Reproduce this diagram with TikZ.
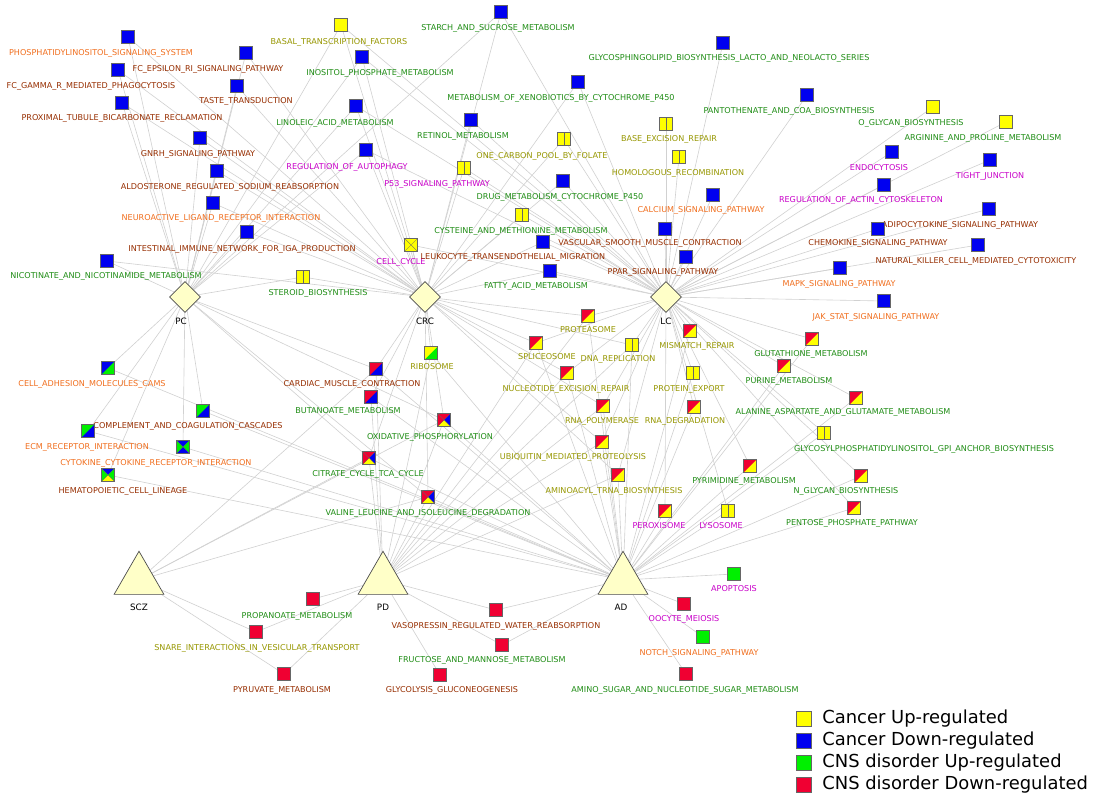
\documentclass[tikz,border=0pt]{standalone}
\usepackage{fontspec}
\setsansfont{DejaVu Sans}
\usepackage{tikz}
\usetikzlibrary{shapes.geometric, backgrounds}
\definecolor{mgreen}{RGB}{30,140,20}
\definecolor{mbrown}{RGB}{150,45,0}
\definecolor{morange}{RGB}{240,110,30}
\definecolor{molive}{RGB}{150,150,0}
\definecolor{mmag}{RGB}{200,0,200}
\definecolor{cyel}{RGB}{255,255,0}
\definecolor{cblue}{RGB}{0,0,240}
\definecolor{cgreen}{RGB}{0,240,0}
\definecolor{cred}{RGB}{240,0,50}
\definecolor{cream}{RGB}{255,255,200}
\tikzset{
    sq/.style={rectangle, draw=black!60, very thin, minimum size=0.26cm, inner sep=0pt},
    sqY/.style={sq, fill=cyel},
    sqB/.style={sq, fill=cblue},
    sqR/.style={sq, fill=cred},
    sqG/.style={sq, fill=cgreen},
    ysplit/.style={sq, fill=cyel, path picture={\draw[black!60, very thin] (path picture bounding box.north) -- (path picture bounding box.south);}},
    duo/.style 2 args={sq, fill=#2, path picture={\fill[#1] (path picture bounding box.north west) -- (path picture bounding box.north east) -- (path picture bounding box.south west) -- cycle;}},
    quad/.style n args={4}{sq, fill=#1, path picture={
        \fill[#2] (path picture bounding box.north east) -- (path picture bounding box.center) -- (path picture bounding box.south east) -- cycle;
        \fill[#3] (path picture bounding box.south west) -- (path picture bounding box.center) -- (path picture bounding box.south east) -- cycle;
        \fill[#4] (path picture bounding box.north west) -- (path picture bounding box.center) -- (path picture bounding box.south west) -- cycle;
        \draw[black!60, very thin] (path picture bounding box.north west) -- (path picture bounding box.south east) (path picture bounding box.north east) -- (path picture bounding box.south west);}},
    lbl/.style={font=\sffamily\fontsize{4.6}{5}\selectfont, inner sep=0pt},
    hub/.style={diamond, draw=black!70, fill=cream, minimum size=0.62cm, inner sep=0pt},
    dis/.style={regular polygon, regular polygon sides=3, draw=black!70, fill=cream, minimum size=1.15cm, inner sep=0pt},
    hublbl/.style={font=\sffamily\fontsize{5}{6}\selectfont, inner sep=0pt},
    link/.style={draw=black!18, line width=0.35pt},
    legtxt/.style={font=\sffamily\fontsize{10.2}{12}\selectfont, anchor=west, inner sep=0pt}
}
% pathway: id, square x, y, style, label x, y, colour, text
\newcommand{\pw}[8]{%
    \node[#4] (#1) at (#2,#3) {};
    \node[lbl, text=#7] (#1-l) at (#5,#6) {#8};
}
\begin{document}
\begin{tikzpicture}[x=0.02cm, y=-0.02cm]
    \useasboundingbox (0,0) rectangle (1093,800);

    % hubs
    \node[hub] (PC) at (185,297) {};
    \node[hub] (CRC) at (425,297) {};
    \node[hub] (LC) at (666,297) {};
    \node[dis] (SCZ) at (139,580) {};
    \node[dis] (PD) at (383,580) {};
    \node[dis] (AD) at (623,580) {};
    \node[hublbl] at (181,321) {PC};
    \node[hublbl] at (425,321) {CRC};
    \node[hublbl] at (666,321) {LC};
    \node[hublbl] at (139,607) {SCZ};
    \node[hublbl] at (383,607) {PD};
    \node[hublbl] at (621,607) {AD};

    % cancer pathways, top
    \pw{p1}{128}{37}{sqB}{101}{53}{morange}{PHOSPHATIDYLINOSITOL\_SIGNALING\_SYSTEM}
    \pw{p2}{246}{53}{sqB}{208}{69}{mbrown}{FC\_EPSILON\_RI\_SIGNALING\_PATHWAY}
    \pw{p3}{118}{70}{sqB}{91}{86}{mbrown}{FC\_GAMMA\_R\_MEDIATED\_PHAGOCYTOSIS}
    \pw{p4}{237}{86}{sqB}{246}{101}{mbrown}{TASTE\_TRANSDUCTION}
    \pw{p5}{122}{103}{sqB}{122}{118}{mbrown}{PROXIMAL\_TUBULE\_BICARBONATE\_RECLAMATION}
    \pw{p6}{200}{138}{sqB}{198}{154}{mbrown}{GNRH\_SIGNALING\_PATHWAY}
    \pw{p7}{217}{171}{sqB}{230}{187}{mbrown}{ALDOSTERONE\_REGULATED\_SODIUM\_REABSORPTION}
    \pw{p8}{213}{203}{sqB}{221}{218}{morange}{NEUROACTIVE\_LIGAND\_RECEPTOR\_INTERACTION}
    \pw{p9}{247}{232}{sqB}{242}{249}{mbrown}{INTESTINAL\_IMMUNE\_NETWORK\_FOR\_IGA\_PRODUCTION}
    \pw{p10}{107}{261}{sqB}{106}{276}{mgreen}{NICOTINATE\_AND\_NICOTINAMIDE\_METABOLISM}
    \pw{p11}{303}{277}{ysplit}{318}{293}{mgreen}{STEROID\_BIOSYNTHESIS}
    \pw{p12}{341}{25}{sqY}{339}{42}{molive}{BASAL\_TRANSCRIPTION\_FACTORS}
    \pw{p13}{501}{12}{sqB}{498}{28}{mgreen}{STARCH\_AND\_SUCROSE\_METABOLISM}
    \pw{p14}{723}{43}{sqB}{729}{58}{mgreen}{GLYCOSPHINGOLIPID\_BIOSYNTHESIS\_LACTO\_AND\_NEOLACTO\_SERIES}
    \pw{p15}{362}{57}{sqB}{380}{73}{mgreen}{INOSITOL\_PHOSPHATE\_METABOLISM}
    \pw{p16}{578}{82}{sqB}{561}{98}{mgreen}{METABOLISM\_OF\_XENOBIOTICS\_BY\_CYTOCHROME\_P450}
    \pw{p17}{807}{95}{sqB}{789}{111}{mgreen}{PANTOTHENATE\_AND\_COA\_BIOSYNTHESIS}
    \pw{p18}{933}{107}{sqY}{911}{123}{mgreen}{O\_GLYCAN\_BIOSYNTHESIS}
    \pw{p19}{1006}{122}{sqY}{983}{138}{mgreen}{ARGININE\_AND\_PROLINE\_METABOLISM}
    \pw{p20}{356}{106}{sqB}{335}{123}{mgreen}{LINOLEIC\_ACID\_METABOLISM}
    \pw{p21}{471}{120}{sqB}{463}{136}{mgreen}{RETINOL\_METABOLISM}
    \pw{p22}{666}{124}{ysplit}{669}{139}{molive}{BASE\_EXCISION\_REPAIR}
    \pw{p23}{564}{139}{ysplit}{542}{156}{molive}{ONE\_CARBON\_POOL\_BY\_FOLATE}
    \pw{p24}{366}{150}{sqB}{347}{167}{mmag}{REGULATION\_OF\_AUTOPHAGY}
    \pw{p25}{892}{152}{sqB}{879}{168}{mmag}{ENDOCYTOSIS}
    \pw{p26}{990}{160}{sqB}{990}{176}{mmag}{TIGHT\_JUNCTION}
    \pw{p27}{464}{168}{ysplit}{437}{184}{mmag}{P53\_SIGNALING\_PATHWAY}
    \pw{p28}{679}{157}{ysplit}{678}{173}{molive}{HOMOLOGOUS\_RECOMBINATION}
    \pw{p29}{563}{181}{sqB}{560}{197}{mgreen}{DRUG\_METABOLISM\_CYTOCHROME\_P450}
    \pw{p30}{884}{185}{sqB}{861}{200}{mmag}{REGULATION\_OF\_ACTIN\_CYTOSKELETON}
    \pw{p31}{713}{195}{sqB}{701}{210}{morange}{CALCIUM\_SIGNALING\_PATHWAY}
    \pw{p32}{989}{209}{sqB}{960}{225}{mbrown}{ADIPOCYTOKINE\_SIGNALING\_PATHWAY}
    \pw{p33}{522}{215}{ysplit}{521}{231}{mgreen}{CYSTEINE\_AND\_METHIONINE\_METABOLISM}
    \pw{p34}{411}{245}{quad={cyel}{cyel}{cyel}{cyel}}{401}{262}{mmag}{CELL\_CYCLE}
    \pw{p35}{543}{242}{sqB}{513}{257}{mbrown}{LEUKOCYTE\_TRANSENDOTHELIAL\_MIGRATION}
    \pw{p36}{665}{229}{sqB}{650}{243}{mbrown}{VASCULAR\_SMOOTH\_MUSCLE\_CONTRACTION}
    \pw{p37}{878}{229}{sqB}{878}{243}{mbrown}{CHEMOKINE\_SIGNALING\_PATHWAY}
    \pw{p38}{978}{245}{sqB}{976}{261}{mbrown}{NATURAL\_KILLER\_CELL\_MEDIATED\_CYTOTOXICITY}
    \pw{p39}{686}{257}{sqB}{663}{272}{mbrown}{PPAR\_SIGNALING\_PATHWAY}
    \pw{p40}{550}{271}{sqB}{536}{286}{mgreen}{FATTY\_ACID\_METABOLISM}
    \pw{p41}{840}{268}{sqB}{839}{284}{morange}{MAPK\_SIGNALING\_PATHWAY}
    \pw{p42}{884}{301}{sqB}{876}{317}{morange}{JAK\_STAT\_SIGNALING\_PATHWAY}

    % shared pathways, middle
    \pw{p43}{588}{316}{duo={cred}{cyel}}{588}{330}{molive}{PROTEASOME}
    \pw{p44}{690}{331}{duo={cred}{cyel}}{697}{346}{molive}{MISMATCH\_REPAIR}
    \pw{p45}{812}{339}{duo={cred}{cyel}}{811}{354}{mgreen}{GLUTATHIONE\_METABOLISM}
    \pw{p46}{536}{343}{duo={cred}{cyel}}{547}{357}{molive}{SPLICEOSOME}
    \pw{p47}{632}{345}{ysplit}{618}{359}{molive}{DNA\_REPLICATION}
    \pw{p48}{431}{353}{duo={cyel}{cgreen}}{432}{367}{molive}{RIBOSOME}
    \pw{p49}{108}{368}{duo={cblue}{cgreen}}{92}{384}{morange}{CELL\_ADHESION\_MOLECULES\_CAMS}
    \pw{p50}{376}{369}{duo={cred}{cblue}}{352}{384}{mbrown}{CARDIAC\_MUSCLE\_CONTRACTION}
    \pw{p51}{567}{373}{duo={cred}{cyel}}{566}{389}{molive}{NUCLEOTIDE\_EXCISION\_REPAIR}
    \pw{p52}{693}{373}{ysplit}{689}{389}{molive}{PROTEIN\_EXPORT}
    \pw{p53}{784}{366}{duo={cred}{cyel}}{789}{381}{mgreen}{PURINE\_METABOLISM}
    \pw{p54}{371}{397}{duo={cred}{cblue}}{348}{411}{mgreen}{BUTANOATE\_METABOLISM}
    \pw{p55}{203}{411}{duo={cgreen}{cblue}}{188}{426}{mbrown}{COMPLEMENT\_AND\_COAGULATION\_CASCADES}
    \pw{p56}{856}{398}{duo={cred}{cyel}}{843}{412}{mgreen}{ALANINE\_ASPARTATE\_AND\_GLUTAMATE\_METABOLISM}
    \pw{p57}{603}{406}{duo={cred}{cyel}}{602}{421}{molive}{RNA\_POLYMERASE}
    \pw{p58}{694}{407}{duo={cred}{cyel}}{685}{421}{molive}{RNA\_DEGRADATION}
    \pw{p59}{444}{420}{quad={cred}{cblue}{cyel}{cred}}{430}{437}{mgreen}{OXIDATIVE\_PHOSPHORYLATION}
    \pw{p60}{88}{431}{duo={cgreen}{cblue}}{87}{447}{morange}{ECM\_RECEPTOR\_INTERACTION}
    \pw{p61}{183}{447}{quad={cblue}{cgreen}{cblue}{cgreen}}{156}{463}{morange}{CYTOKINE\_CYTOKINE\_RECEPTOR\_INTERACTION}
    \pw{p62}{824}{433}{ysplit}{924}{449}{mgreen}{GLYCOSYLPHOSPHATIDYLINOSITOL\_GPI\_ANCHOR\_BIOSYNTHESIS}
    \pw{p63}{602}{442}{duo={cred}{cyel}}{573}{457}{molive}{UBIQUITIN\_MEDIATED\_PROTEOLYSIS}
    \pw{p64}{369}{458}{quad={cred}{cblue}{cyel}{cred}}{368}{474}{mgreen}{CITRATE\_CYCLE\_TCA\_CYCLE}
    \pw{p65}{750}{466}{duo={cred}{cyel}}{744}{481}{mgreen}{PYRIMIDINE\_METABOLISM}
    \pw{p66}{861}{476}{duo={cred}{cyel}}{846}{491}{mgreen}{N\_GLYCAN\_BIOSYNTHESIS}
    \pw{p67}{108}{475}{quad={cblue}{cgreen}{cyel}{cgreen}}{123}{491}{mbrown}{HEMATOPOIETIC\_CELL\_LINEAGE}
    \pw{p68}{618}{475}{duo={cred}{cyel}}{614}{491}{molive}{AMINOACYL\_TRNA\_BIOSYNTHESIS}
    \pw{p69}{428}{497}{quad={cred}{cblue}{cyel}{cred}}{428}{513}{mgreen}{VALINE\_LEUCINE\_AND\_ISOLEUCINE\_DEGRADATION}
    \pw{p70}{665}{511}{duo={cred}{cyel}}{659}{526}{mmag}{PEROXISOME}
    \pw{p71}{728}{511}{ysplit}{721}{526}{mmag}{LYSOSOME}
    \pw{p72}{854}{508}{duo={cred}{cyel}}{852}{523}{mgreen}{PENTOSE\_PHOSPHATE\_PATHWAY}

    % CNS pathways, bottom
    \pw{p73}{734}{574}{sqG}{734}{589}{mmag}{APOPTOSIS}
    \pw{p74}{684}{604}{sqR}{684}{619}{mmag}{OOCYTE\_MEIOSIS}
    \pw{p75}{313}{599}{sqR}{297}{616}{mgreen}{PROPANOATE\_METABOLISM}
    \pw{p76}{496}{610}{sqR}{496}{626}{mbrown}{VASOPRESSIN\_REGULATED\_WATER\_REABSORPTION}
    \pw{p77}{256}{632}{sqR}{257}{648}{molive}{SNARE\_INTERACTIONS\_IN\_VESICULAR\_TRANSPORT}
    \pw{p78}{703}{637}{sqG}{699}{653}{morange}{NOTCH\_SIGNALING\_PATHWAY}
    \pw{p79}{502}{645}{sqR}{482}{660}{mgreen}{FRUCTOSE\_AND\_MANNOSE\_METABOLISM}
    \pw{p80}{284}{674}{sqR}{282}{690}{mbrown}{PYRUVATE\_METABOLISM}
    \pw{p81}{440}{675}{sqR}{452}{690}{mbrown}{GLYCOLYSIS\_GLUCONEOGENESIS}
    \pw{p82}{686}{674}{sqR}{685}{690}{mgreen}{AMINO\_SUGAR\_AND\_NUCLEOTIDE\_SUGAR\_METABOLISM}

    % connectors
    \begin{scope}[on background layer]
        \foreach \i in {1,...,11} {\draw[link] (p\i) -- (PC); \draw[link] (p\i) -- (CRC);}
        \foreach \i in {12,13,15,16,20,21,23,24,27,29,33,34,35,40} {\draw[link] (p\i) -- (CRC); \draw[link] (p\i) -- (LC);}
        \foreach \i in {14,17,18,19,22,25,26,28,30,31,32,36,37,38,39,41,42} {\draw[link] (p\i) -- (LC);}
        \foreach \i in {12,13,15,20,24} {\draw[link] (p\i) -- (PC);}
        \foreach \i in {43,44,45,46,47,51,52,53,56,57,58,62,63,65,66,68,70,71,72} {\draw[link] (p\i) -- (LC); \draw[link] (p\i) -- (AD);}
        \foreach \i in {43,46,47,51,57,63,68} {\draw[link] (p\i) -- (CRC); \draw[link] (p\i) -- (PD);}
        \foreach \i in {49,55,60,61,67} {\draw[link] (p\i) -- (PC); \draw[link] (p\i) -- (AD);}
        \foreach \i in {48,50,54,59,64,69} {\draw[link] (p\i) -- (CRC); \draw[link] (p\i) -- (PD); \draw[link] (p\i) -- (AD);}
        \foreach \i in {50,59,64,69} {\draw[link] (p\i) -- (SCZ); \draw[link] (p\i) -- (PC);}
        \foreach \i in {73,74,76,78,79,82} {\draw[link] (p\i) -- (AD);}
        \foreach \i in {75,76,77,79,80,81} {\draw[link] (p\i) -- (PD);}
        \foreach \i in {77,80} {\draw[link] (p\i) -- (SCZ);}
    \end{scope}

    % legend
    \node[sqY, minimum size=0.3cm] (k1) at (804,719) {};
    \node[sqB, minimum size=0.3cm] (k2) at (804,741) {};
    \node[sqG, minimum size=0.3cm] (k3) at (804,763) {};
    \node[sqR, minimum size=0.3cm] (k4) at (804,785) {};
    \node[legtxt] at (822,719) {Cancer Up-regulated};
    \node[legtxt] at (822,741) {Cancer Down-regulated};
    \node[legtxt] at (822,763) {CNS disorder Up-regulated};
    \node[legtxt] at (822,785) {CNS disorder Down-regulated};
\end{tikzpicture}
\end{document}
